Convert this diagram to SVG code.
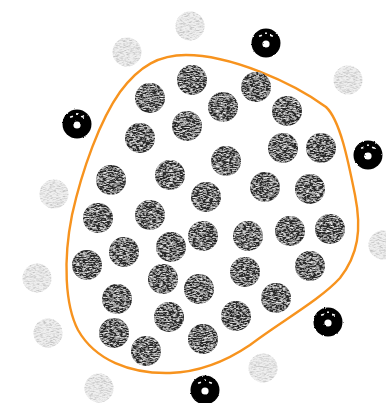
<svg xmlns="http://www.w3.org/2000/svg" width="386" height="403" viewBox="0 0 386 403">
<style>
.dk{fill:#2a2a2a}
.lt{fill:#efefef}
.bk{fill:#000}
.hole{fill:#fff}
.boundary{fill:none;stroke:#f7931e;stroke-width:2.4;stroke-linejoin:round}
</style>
<defs>
<filter id="dkTex" x="-5%" y="-5%" width="110%" height="110%">
<feTurbulence type="fractalNoise" baseFrequency="0.3 1.2" numOctaves="3" seed="4" result="n"/>
<feColorMatrix in="n" type="matrix" values="0 0 0 0 0.85  0 0 0 0 0.85  0 0 0 0 0.85  2.6 0 0 0 -1.1" result="w"/>
<feComposite in="w" in2="SourceAlpha" operator="in" result="wc"/>
<feMerge><feMergeNode in="SourceGraphic"/><feMergeNode in="wc"/></feMerge>
<feGaussianBlur stdDeviation="0.3"/>
</filter>
<filter id="ltTex" x="-5%" y="-5%" width="110%" height="110%">
<feTurbulence type="fractalNoise" baseFrequency="0.3 1.2" numOctaves="2" seed="9" result="n"/>
<feColorMatrix in="n" type="matrix" values="0 0 0 0 0.55  0 0 0 0 0.55  0 0 0 0 0.55  2.6 0 0 0 -1.05" result="g"/>
<feComposite in="g" in2="SourceAlpha" operator="in" result="gc"/>
<feMerge><feMergeNode in="SourceGraphic"/><feMergeNode in="gc"/></feMerge>
<feGaussianBlur stdDeviation="0.3"/>
</filter>
<filter id="fuzz" x="-10%" y="-10%" width="120%" height="120%">
<feTurbulence type="fractalNoise" baseFrequency="0.9" numOctaves="1" seed="2" result="n"/>
<feDisplacementMap in="SourceGraphic" in2="n" scale="2.4" xChannelSelector="R" yChannelSelector="G"/>
</filter>
<g id="blackProto">
<circle class="bk" r="14.5"/>
<circle class="hole" cx="0" cy="1" r="3.6"/>
<rect class="hole" x="-7" y="-8" width="3" height="1.6" transform="rotate(-20 -5.5 -7.2)"/>
<rect class="hole" x="4" y="-8" width="3" height="1.6" transform="rotate(20 5.5 -7.2)"/>
<rect class="hole" x="-1" y="-10.5" width="2" height="1.4"/>
</g>
</defs>
<rect width="386" height="403" fill="#fff"/>
<path id="boundary" class="boundary" d="M186,55 C230,55 292,82 326,107 C340,120 348,160 355,195 C362,230 358,255 340,278 C320,300 280,322 250,345 C225,362 200,372 170,373 C130,374 95,360 78,330 C65,305 63,260 72,215 C82,170 100,120 120,92 C140,65 160,55 186,55 Z"/>
<g id="inside" filter="url(#dkTex)">
<circle class="dk" cx="192" cy="80" r="15"/>
<circle class="dk" cx="150" cy="98" r="15"/>
<circle class="dk" cx="256" cy="87" r="15"/>
<circle class="dk" cx="223" cy="107" r="15"/>
<circle class="dk" cx="287" cy="111" r="15"/>
<circle class="dk" cx="140" cy="138" r="15"/>
<circle class="dk" cx="187" cy="126" r="15"/>
<circle class="dk" cx="283" cy="148" r="15"/>
<circle class="dk" cx="321" cy="148" r="15"/>
<circle class="dk" cx="226" cy="161" r="15"/>
<circle class="dk" cx="111" cy="180" r="15"/>
<circle class="dk" cx="170" cy="175" r="15"/>
<circle class="dk" cx="265" cy="187" r="15"/>
<circle class="dk" cx="310" cy="189" r="15"/>
<circle class="dk" cx="206" cy="197" r="15"/>
<circle class="dk" cx="98" cy="218" r="15"/>
<circle class="dk" cx="150" cy="215" r="15"/>
<circle class="dk" cx="124" cy="252" r="15"/>
<circle class="dk" cx="171" cy="247" r="15"/>
<circle class="dk" cx="203" cy="236" r="15"/>
<circle class="dk" cx="248" cy="236" r="15"/>
<circle class="dk" cx="290" cy="231" r="15"/>
<circle class="dk" cx="330" cy="229" r="15"/>
<circle class="dk" cx="87" cy="265" r="15"/>
<circle class="dk" cx="163" cy="279" r="15"/>
<circle class="dk" cx="245" cy="272" r="15"/>
<circle class="dk" cx="310" cy="266" r="15"/>
<circle class="dk" cx="117" cy="299" r="15"/>
<circle class="dk" cx="199" cy="289" r="15"/>
<circle class="dk" cx="276" cy="298" r="15"/>
<circle class="dk" cx="169" cy="317" r="15"/>
<circle class="dk" cx="236" cy="316" r="15"/>
<circle class="dk" cx="114" cy="333" r="15"/>
<circle class="dk" cx="146" cy="351" r="15"/>
<circle class="dk" cx="203" cy="339" r="15"/>
</g>
<g id="outsideLight" filter="url(#ltTex)">
<circle class="lt" cx="127" cy="52" r="14.5"/>
<circle class="lt" cx="190" cy="26" r="14.5"/>
<circle class="lt" cx="348" cy="80" r="14.5"/>
<circle class="lt" cx="54" cy="194" r="14.5"/>
<circle class="lt" cx="37" cy="278" r="14.5"/>
<circle class="lt" cx="48" cy="333" r="14.5"/>
<circle class="lt" cx="99" cy="388" r="14.5"/>
<circle class="lt" cx="263" cy="368" r="14.5"/>
<circle class="lt" cx="383" cy="245" r="14.5"/>
</g>
<g id="outsideBlack" filter="url(#fuzz)">
<use href="#blackProto" x="77" y="124"/>
<use href="#blackProto" x="266" y="43"/>
<use href="#blackProto" x="368" y="155"/>
<use href="#blackProto" x="328" y="322"/>
<use href="#blackProto" x="205" y="390"/>
</g>
</svg>
